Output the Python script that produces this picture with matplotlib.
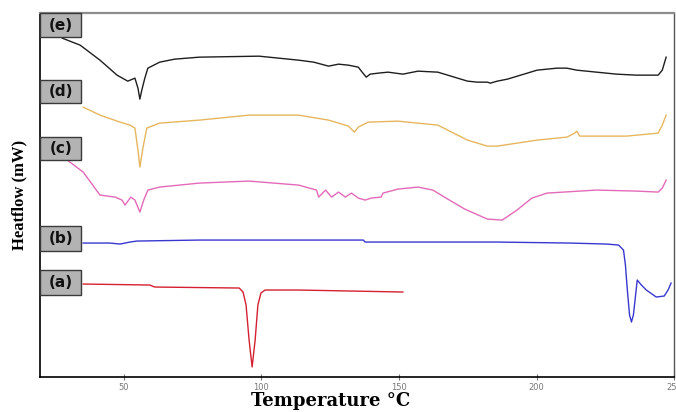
import numpy as np
import matplotlib
matplotlib.use('Agg')
import matplotlib.pyplot as plt
from matplotlib.patches import Rectangle

# DSC traces (temperature in deg C, heat flow in arbitrary units)
temp_e = [27.6, 34.1, 41.3, 47.5, 51.4, 54.0, 55.1, 55.8, 56.5, 57.6, 58.7, 63.0, 68.4, 77.4,
          99.1, 113.5, 119.0, 124.4, 128.0, 131.6, 135.2, 136.6, 138.1, 139.5, 142.4, 146.0,
          151.4, 156.9, 164.1, 171.3, 174.9, 178.5, 182.1, 183.2, 185.7, 189.4, 196.6, 200.2,
          207.4, 211.0, 214.6, 221.8, 229.1, 236.3, 244.2, 245.7, 247.1]
heat_e = [339, 332, 317, 302, 296, 299, 289, 278, 287, 299, 309, 315, 318, 320,
          321, 317, 315, 311, 313, 312, 310, 305, 300, 303, 304, 305,
          303, 306, 305, 299, 296, 295, 295, 294, 296, 298, 304, 307,
          309, 309, 307, 305, 303, 302, 302, 307, 320]

temp_d = [35.2, 41.3, 48.6, 52.2, 54.0, 55.1, 55.8, 56.9, 58.3, 63.0, 77.4, 95.5, 113.5,
          124.4, 131.6, 133.8, 135.2, 138.8, 149.6, 164.1, 174.9, 182.1, 185.7, 200.2,
          211.0, 213.9, 214.6, 215.7, 232.7, 244.2, 245.7, 247.1]
heat_d = [270, 262, 255, 252, 249, 227, 210, 229, 249, 254, 257, 262, 262,
          257, 251, 245, 250, 255, 256, 252, 237, 231, 231, 237,
          240, 244, 246, 241, 241, 244, 252, 262]

temp_c = [29.4, 35.2, 41.3, 46.8, 49.3, 50.4, 52.5, 54.0, 55.8, 57.2, 58.7, 63.0, 77.4,
          95.5, 113.5, 120.0, 120.8, 123.3, 125.5, 128.0, 130.5, 132.7, 135.2, 137.7,
          139.9, 143.5, 144.2, 149.6, 156.9, 162.3, 167.7, 173.9, 182.1, 187.5, 192.9,
          198.3, 203.8, 221.8, 236.3, 244.2, 245.7, 247.1]
heat_c = [217, 205, 182, 180, 177, 172, 180, 177, 165, 177, 187, 190, 194,
          196, 192, 187, 180, 187, 180, 185, 180, 184, 179, 177,
          179, 180, 184, 188, 190, 187, 178, 168, 158, 157, 167,
          179, 184, 187, 186, 185, 189, 197]

temp_b = [35.2, 44.9, 48.6, 52.2, 54.7, 77.4, 113.5, 137.0, 137.7, 185.7, 212.1, 225.5,
          229.8, 231.6, 232.3, 233.0, 233.8, 234.5, 235.2, 236.0, 236.6, 238.1, 239.9,
          243.5, 246.4, 247.8, 248.9]
heat_b = [134, 134, 133, 135, 136, 137, 137, 137, 135, 135, 134, 133,
          132, 127, 112, 87, 62, 55, 62, 82, 97, 92, 87,
          80, 81, 87, 94]

temp_a = [35.2, 59.4, 61.2, 91.9, 93.3, 94.4, 95.5, 96.6, 97.7, 98.7, 99.8, 101.3, 113.5, 151.4]
heat_a = [93, 92, 90, 89, 85, 72, 37, 10, 37, 72, 84, 87, 87, 85]

curves = [
    ('(e)', temp_e, heat_e, '#1e1e1e'),
    ('(d)', temp_d, heat_d, '#e6b65e'),
    ('(c)', temp_c, heat_c, '#e36ab8'),
    ('(b)', temp_b, heat_b, '#3838d0'),
    ('(a)', temp_a, heat_a, '#d42030'),
]
# label boxes: (bottom, top) in axes fraction
label_boxes = [(0.934, 1.0), (0.753, 0.816), (0.596, 0.659), (0.346, 0.415), (0.225, 0.294)]

fig = plt.figure(figsize=(6.76, 4.12), dpi=100)
ax = fig.add_axes([0.0592, 0.085, 0.938, 0.883])

for (name, t, h, col), (y0, y1) in zip(curves, label_boxes):
    ax.plot(t, h, color=col, lw=1.0)
    ax.add_patch(Rectangle((0, y0), 0.065, y1 - y0, transform=ax.transAxes,
                           facecolor='#b3b3b3', edgecolor='#3a3a3a', lw=1.0, zorder=5,
                           clip_on=False))
    ax.text(0.0325, (y0 + y1) / 2, name, transform=ax.transAxes, ha='center', va='center',
            fontsize=11, fontweight='bold', color='#111111', zorder=6)

ax.set_xlim(19.5, 250)
ax.set_ylim(0, 364)
ax.set_xticks([50, 100, 150, 200, 250])
ax.set_yticks([])
ax.tick_params(axis='x', direction='inout', length=4, width=0.8, colors='#777777',
               labelsize=6, pad=2)

for side in ['left', 'bottom']:
    ax.spines[side].set_color('black')
    ax.spines[side].set_linewidth(1.2)
ax.spines['top'].set_color('#8c8c8c')
ax.spines['top'].set_linewidth(1.6)
ax.spines['right'].set_color('#555555')
ax.spines['right'].set_linewidth(1.0)

ax.set_xlabel('Temperature °C', family='DejaVu Serif', fontweight='bold', fontsize=13)
ax.xaxis.set_label_coords(0.459, -0.042)
ax.set_ylabel('Heatflow (mW)', family='Liberation Serif', fontweight='bold', fontsize=12)
ax.yaxis.set_label_coords(-0.02, 0.5)

fig.savefig('out.png', dpi=100)
